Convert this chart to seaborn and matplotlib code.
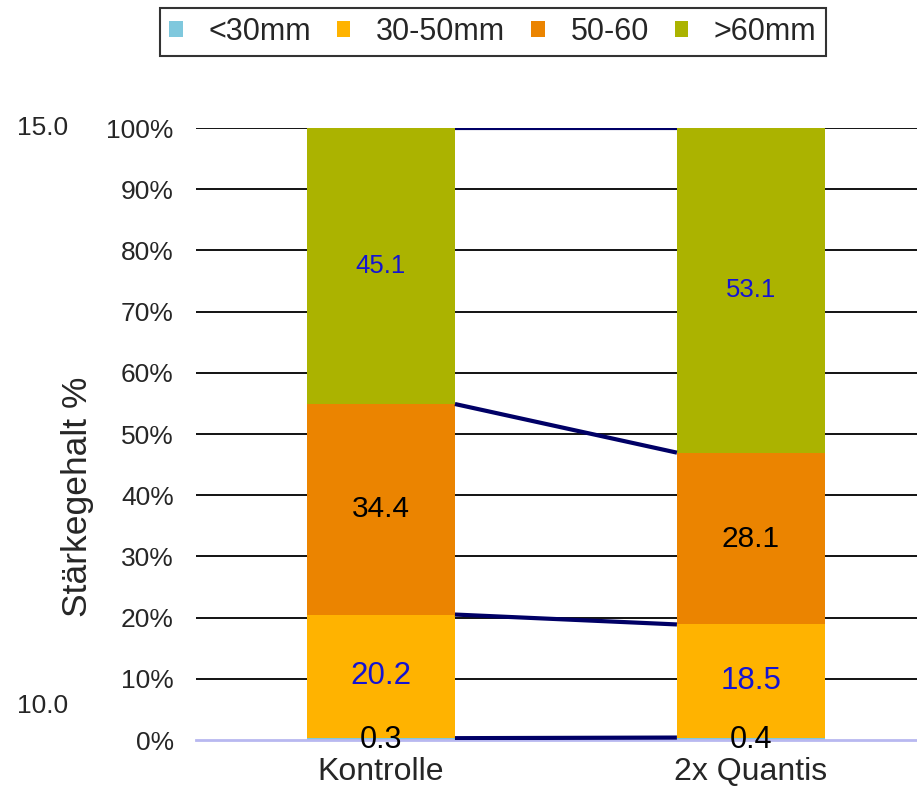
import matplotlib
matplotlib.use("Agg")
import matplotlib.pyplot as plt
from matplotlib.patches import Patch
import seaborn as sns
import pandas as pd

# data
groups = ["Kontrolle", "2x Quantis"]
sizes = ["<30mm", "30-50mm", "50-60", ">60mm"]
under30 = [0.3, 0.4]
mm30_50 = [20.2, 18.5]
mm50_60 = [34.4, 28.1]
over60 = [45.1, 53.1]
side_labels = ["15.0", "10.0"]

colors = ["#7fc8dd", "#ffb300", "#eb8400", "#abb300"]
label_colors = ["black", "#1414d2", "black", "#1414d2"]
label_sizes = [22, 22.5, 21.5, 18.5]

sns.set_style("white")
plt.rcParams["font.family"] = ["Liberation Sans", "DejaVu Sans"]

df = pd.DataFrame({"group": groups, sizes[0]: under30, sizes[1]: mm30_50,
                   sizes[2]: mm50_60, sizes[3]: over60})
total = df[sizes].sum(axis=1)
pct = df[sizes].div(total, axis=0) * 100

fig = plt.figure(figsize=(9.17, 7.91), dpi=100)
ax = fig.add_axes([196 / 917, 1 - 740 / 791, 721 / 917, 612 / 791])

bottom = pd.Series([0.0, 0.0])
tops = []
for s, c, lc, fs in zip(sizes, colors, label_colors, label_sizes):
    sns.barplot(x=df["group"], y=pct[s], bottom=bottom, color=c, width=0.4,
                saturation=1, ax=ax, zorder=2, linewidth=0)
    for i in range(len(groups)):
        yc = bottom[i] + pct[s][i] / 2
        if s == sizes[0]:
            yc = 0.0
        ax.text(i, yc, f"{df[s][i]:.1f}", ha="center", va="center",
                color=lc, fontsize=fs, zorder=5)
    bottom = bottom + pct[s]
    tops.append(bottom.copy())

# series lines between the stacks
for t in tops:
    ax.plot([0.2, 0.8], [t[0], t[1]], color="#000066", lw=3, zorder=4,
            solid_capstyle="butt")

ax.set_xlim(-0.5, 1.449)
ax.set_ylim(0, 100)
ax.set_yticks(range(0, 101, 10))
ax.set_yticklabels([f"{v}%" for v in range(0, 101, 10)])
for v in range(10, 101, 10):
    ax.axhline(v, color="black", lw=1.3, zorder=1)
ax.tick_params(axis="y", length=0, pad=16, labelsize=19)
ax.tick_params(axis="x", length=0, pad=12, labelsize=23)
ax.set_xlabel("")
ax.set_ylabel("")
for sp in ["top", "right", "left"]:
    ax.spines[sp].set_visible(False)
ax.spines["bottom"].set_color("#b8b8f0")
ax.spines["bottom"].set_linewidth(2)

fig.text(77 / 917, 1 - 497 / 791, "Stärkegehalt %", rotation=90,
         ha="center", va="center", fontsize=25.5)
fig.text(68 / 917, 1 - 128 / 791, side_labels[0], ha="right", va="center", fontsize=19)
fig.text(68 / 917, 1 - 706 / 791, side_labels[1], ha="right", va="center", fontsize=19)

handles = [Patch(facecolor=c, edgecolor="none") for c in colors]
leg = fig.legend(handles, sizes, loc="upper center", ncol=4,
                 bbox_to_anchor=(493 / 917, 1 - 8 / 791), fontsize=22,
                 frameon=True, fancybox=False, handlelength=0.43,
                 handleheight=0.43, handletextpad=0.85, columnspacing=0.85,
                 borderpad=0.3, borderaxespad=0)
leg.get_frame().set_edgecolor("black")
leg.get_frame().set_linewidth(1.5)

fig.savefig("out.png", dpi=100)
